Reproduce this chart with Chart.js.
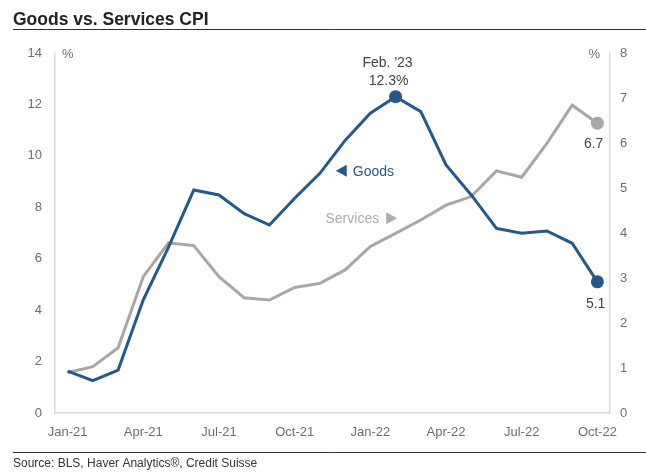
<!DOCTYPE html>
<html>
<head>
<meta charset="utf-8">
<script src="https://cdn.jsdelivr.net/npm/chart.js@4"></script>
<style>
  body { margin: 0; background: #fff; }
  #wrap { width: 646px; height: 472px; }
</style>
</head>
<body>
<div id="wrap"><canvas id="cpiChart" width="646" height="472"></canvas></div>
<script>
var months = ['Jan-21', 'Feb-21', 'Mar-21', 'Apr-21', 'May-21', 'Jun-21', 'Jul-21', 'Aug-21', 'Sep-21', 'Oct-21', 'Nov-21', 'Dec-21',
    'Jan-22', 'Feb-22', 'Mar-22', 'Apr-22', 'May-22', 'Jun-22', 'Jul-22', 'Aug-22', 'Sep-22', 'Oct-22'];

// goods, left axis (%)
var goods = [1.63, 1.26, 1.67, 4.4, 6.45, 8.67, 8.48, 7.75, 7.31, 8.35, 9.32, 10.6,
    11.66, 12.3, 11.72, 9.65, 8.48, 7.18, 6.99, 7.08, 6.6, 5.1];

// services, right axis (%)
var services = [0.9, 1.03, 1.45, 3.03, 3.78, 3.72, 3.03, 2.56, 2.51, 2.79, 2.88, 3.18,
    3.7, 3.99, 4.29, 4.62, 4.81, 5.38, 5.24, 5.99, 6.84, 6.44];

var leftTicks = [0, 2, 4, 6, 8, 10, 12, 14];
var rightTicks = [0, 1, 2, 3, 4, 5, 6, 7, 8];

var titleText = 'Goods vs. Services CPI';
var sourceText = 'Source: BLS, Haver Analytics\u00AE, Credit Suisse';
var peakLabel = ["Feb. '23", '12.3%'];
var goodsEndLabel = '5.1';
var servicesEndLabel = '6.7';

var blue = '#25598a';
var grey = '#aca6a2';
var axisText = '#6e6e6e';
var fontFam = '"Liberation Sans", Arial, sans-serif';

var peakIdx = 13;
var lastIdx = months.length - 1;

var frame = {
    id: 'frame',
    afterDraw: function (chart) {
        var ctx = chart.ctx;
        var a = chart.chartArea;
        var x = chart.scales.x, y = chart.scales.y, y1 = chart.scales.y1;
        ctx.save();

        // title and rules
        ctx.fillStyle = '#222';
        ctx.font = 'bold 17.5px ' + fontFam;
        ctx.textAlign = 'left';
        ctx.textBaseline = 'alphabetic';
        ctx.fillText(titleText, 13, 25);
        ctx.strokeStyle = '#333';
        ctx.lineWidth = 1;
        ctx.beginPath();
        ctx.moveTo(13, 29.5); ctx.lineTo(646, 29.5);
        ctx.moveTo(13, 452.5); ctx.lineTo(646, 452.5);
        ctx.stroke();

        ctx.fillStyle = '#333';
        ctx.font = '12px ' + fontFam;
        ctx.textBaseline = 'middle';
        ctx.fillText(sourceText, 13, 464);

        // % unit labels
        ctx.fillStyle = axisText;
        ctx.font = '13px ' + fontFam;
        ctx.fillText('%', a.left + 7, a.top + 1);
        ctx.textAlign = 'right';
        ctx.fillText('%', a.right - 10, a.top + 1);

        // peak annotation
        var px = x.getPixelForValue(peakIdx);
        var py = y.getPixelForValue(goods[peakIdx]);
        ctx.fillStyle = '#444';
        ctx.font = '14px ' + fontFam;
        ctx.textAlign = 'center';
        ctx.fillText(peakLabel[0], px - 8, py - 34);
        ctx.fillText(peakLabel[1], px - 7, py - 16);

        // end labels
        var ex = x.getPixelForValue(lastIdx);
        ctx.textAlign = 'right';
        ctx.fillText(goodsEndLabel, ex + 8, y.getPixelForValue(goods[lastIdx]) + 22);
        ctx.fillText(servicesEndLabel, ex + 6, y1.getPixelForValue(services[lastIdx]) + 21);

        // series labels with arrows
        var gx = x.getPixelForValue(10.63);
        var gy = y.getPixelForValue(9.42);
        ctx.fillStyle = blue;
        ctx.beginPath();
        ctx.moveTo(gx, gy); ctx.lineTo(gx + 11, gy - 6); ctx.lineTo(gx + 11, gy + 6);
        ctx.closePath(); ctx.fill();
        ctx.textAlign = 'left';
        ctx.fillText('Goods', gx + 17, gy + 1);

        var sx = x.getPixelForValue(12.35);
        var sy = y.getPixelForValue(7.57);
        ctx.fillStyle = '#b1aaa6';
        ctx.textAlign = 'right';
        ctx.fillText('Services', sx, sy + 1);
        ctx.beginPath();
        ctx.moveTo(sx + 7, sy - 6); ctx.lineTo(sx + 18, sy); ctx.lineTo(sx + 7, sy + 6);
        ctx.closePath(); ctx.fill();

        ctx.restore();
    }
};

function markerRadius(idxList) {
    return function (c) { return idxList.indexOf(c.dataIndex) >= 0 ? 6.5 : 0; };
}

var config = {
    type: 'line',
    data: {
        labels: months,
        datasets: [{
            label: 'Goods',
            data: goods,
            yAxisID: 'y',
            borderColor: blue,
            backgroundColor: blue,
            borderWidth: 3,
            tension: 0,
            pointRadius: markerRadius([peakIdx, lastIdx]),
            pointBorderWidth: 0,
            pointBackgroundColor: blue
        },
        {
            label: 'Services',
            data: services,
            yAxisID: 'y1',
            borderColor: grey,
            backgroundColor: grey,
            borderWidth: 3,
            tension: 0,
            pointRadius: markerRadius([lastIdx]),
            pointBorderWidth: 0,
            pointBackgroundColor: grey
        }]
    },
    options: {
        responsive: false,
        animation: false,
        layout: { padding: { top: 53, bottom: 19, left: 0, right: 0 } },
        plugins: {
            legend: { display: false },
            tooltip: { enabled: false }
        },
        scales: {
            x: {
                offset: true,
                grid: { display: false, drawTicks: false },
                border: { display: true, color: '#dcdcdc', width: 1.5 },
                afterFit: function (s) { s.height = 40; },
                ticks: {
                    autoSkip: false,
                    maxRotation: 0,
                    padding: 12,
                    color: axisText,
                    font: { family: fontFam, size: 13 },
                    callback: function (v, i) { return i % 3 === 0 ? months[i] : ''; }
                }
            },
            y: {
                position: 'left',
                min: 0,
                max: 14,
                afterBuildTicks: function (s) { s.ticks = leftTicks.map(function (v) { return { value: v }; }); },
                afterFit: function (s) { s.width = 55; },
                grid: { display: false, drawTicks: false },
                border: { display: true, color: '#dcdcdc', width: 1.5 },
                ticks: {
                    padding: 13,
                    color: axisText,
                    font: { family: fontFam, size: 13 }
                }
            },
            y1: {
                position: 'right',
                min: 0,
                max: 8,
                afterBuildTicks: function (s) { s.ticks = rightTicks.map(function (v) { return { value: v }; }); },
                afterFit: function (s) { s.width = 36; },
                grid: { display: false, drawTicks: false },
                border: { display: true, color: '#dcdcdc', width: 1.5 },
                ticks: {
                    padding: 10,
                    color: axisText,
                    font: { family: fontFam, size: 13 }
                }
            }
        }
    },
    plugins: [frame]
};

var cpiChart = new Chart(document.getElementById('cpiChart'), config);
</script>
</body>
</html>
